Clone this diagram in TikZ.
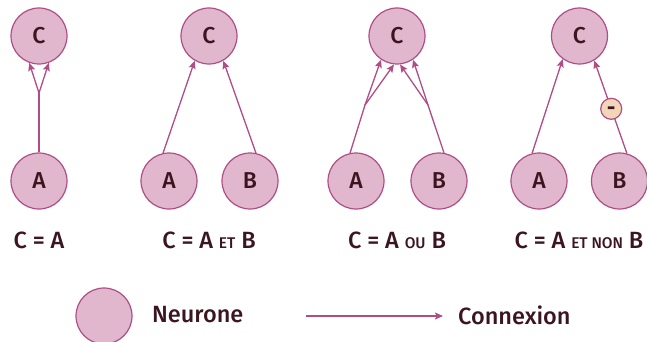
\documentclass[tikz,border=0pt]{standalone}
\usepackage{fontspec}
\setmainfont{Fira Sans}[UprightFont={* Medium}]
\usetikzlibrary{arrows.meta}

\definecolor{neurfill}{HTML}{E0B7CD}
\definecolor{neurline}{HTML}{B04C86}
\definecolor{inkdark}{HTML}{3B1620}
\definecolor{inhibfill}{HTML}{F3D6B8}

\tikzset{
  neuron/.style={circle, draw=neurline, fill=neurfill, line width=1.2pt,
    minimum size=56pt, inner sep=0pt, text=inkdark, font=\fontsize{23}{23}\selectfont},
  synapse/.style={draw=neurline, line width=1.3pt,
    -{Stealth[length=8pt,width=7pt,inset=1.5pt]}},
  inhib/.style={circle, draw=neurline, fill=inhibfill, line width=1.2pt,
    minimum size=21pt, inner sep=0pt, text height=11.5pt, text depth=0pt,
    text=inkdark, font=\bfseries\fontsize{20}{20}\selectfont},
  formula/.style={text=inkdark, font=\fontsize{23.5}{23.5}\selectfont, inner sep=0pt},
}
\newcommand{\petit}[1]{{\fontsize{15.5}{15.5}\selectfont #1}}

\begin{document}
\begin{tikzpicture}[x=1pt,y=-1pt]
    \useasboundingbox (0,0) rectangle (647,342);

    % C = A
    \node[neuron] (C1) at (39,36) {C};
    \node[neuron] (A1) at (39,181) {A};
    \coordinate (J1) at (39,93);
    \draw[neurline, line width=1.3pt] (A1.north) -- (J1);
    \draw[synapse] (J1) -- (C1.250);
    \draw[synapse] (J1) -- (C1.290);
    \node[formula] (L1) at (39,240) {C = A};

    % C = A et B
    \node[neuron] (C2) at (209,36) {C};
    \node[neuron] (A2) at (169,181) {A};
    \node[neuron] (B2) at (250,181) {B};
    \draw[synapse] (A2.102) -- (C2.240);
    \draw[synapse] (B2.78) -- (C2.300);
    \node[formula] (L2) at (209,240) {C = A \petit{ET} B};

    % C = A ou B
    \node[neuron] (C3) at (397,36) {C};
    \node[neuron] (A3) at (356,181) {A};
    \node[neuron] (B3) at (439,181) {B};
    \coordinate (J3a) at (365,105);
    \coordinate (J3b) at (428,105);
    \draw[neurline, line width=1.3pt] (A3.102) -- (J3a);
    \draw[neurline, line width=1.3pt] (B3.80) -- (J3b);
    \draw[synapse] (J3a) -- (C3.236);
    \draw[synapse] (J3a) -- (C3.264);
    \draw[synapse] (J3b) -- (C3.276);
    \draw[synapse] (J3b) -- (C3.304);
    \node[formula] (L3) at (397,240) {C = A \petit{OU} B};

    % C = A et non B
    \node[neuron] (C4) at (579.5,36) {C};
    \node[neuron] (A4) at (539,181) {A};
    \node[neuron] (B4) at (619.5,181) {B};
    \draw[synapse] (A4.104) -- (C4.234);
    \draw[synapse] (B4.75) -- node[inhib, pos=0.48] (M4) {-} (C4.301);
    \node[formula] (L4) at (579,240) {C = A \petit{ET NON} B};

    % legende
    \node[neuron] (N0) at (104,316) {};
    \node[formula, anchor=west] (tNeur) at (152,315) {Neurone};
    \coordinate (K0) at (306,316);
    \coordinate (K1) at (443,316);
    \draw[synapse] (K0) -- (K1);
    \node[formula, anchor=west] (tConn) at (458,315) {Connexion};
\end{tikzpicture}
\end{document}
